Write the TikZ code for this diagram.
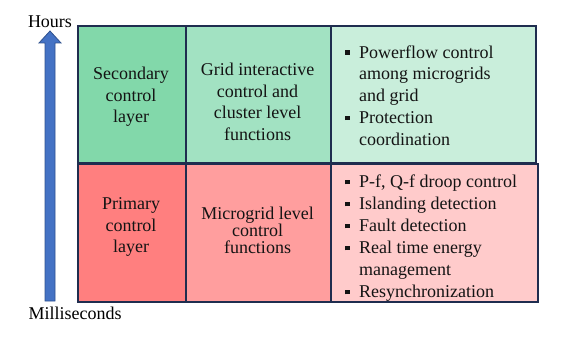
\documentclass[tikz,border=0pt]{standalone}
\usepackage{fontspec}
\setmainfont{Liberation Serif}
\newfontfamily\timesf{Liberation Serif}
\newcommand{\bul}{\makebox[15pt][l]{\hspace{1pt}\rule[3.5pt]{4.5pt}{4.5pt}}}
\newcommand{\cont}{\hspace*{15pt}}
\begin{document}
\begin{tikzpicture}[x=1pt,y=-1pt,
  cell/.style={draw=bordercol, line width=1.8pt, anchor=north west, inner sep=0pt},
  txt/.style={align=center, font=\timesf\fontsize{18}{21.5}\selectfont, text=black!92, inner sep=0pt},
  lst/.style={align=left, font=\timesf\fontsize{18}{21.8}\selectfont, text=black!92, inner sep=0pt, anchor=west},
  axislbl/.style={font=\timesf\fontsize{18}{21}\selectfont, inner sep=0pt}]
\definecolor{bordercol}{HTML}{1F2D4F}
\definecolor{gA}{HTML}{82D8AA}
\definecolor{gB}{HTML}{A2E2C2}
\definecolor{gC}{HTML}{C9EEDB}
\definecolor{rA}{HTML}{FF7F7F}
\definecolor{rB}{HTML}{FF9E9E}
\definecolor{rC}{HTML}{FFCBCB}
\definecolor{arrowfill}{HTML}{4472C4}
\definecolor{arrowdraw}{HTML}{2F528F}
\useasboundingbox (0,0) rectangle (585,337);
% cells
\node[cell, fill=gA, minimum width=108pt, minimum height=137pt] (s1) at (77,25) {};
\node[cell, fill=gB, minimum width=145pt, minimum height=137pt] (s2) at (185,25) {};
\node[cell, fill=gC, minimum width=205pt, minimum height=137pt] (s3) at (330,25) {};
\node[cell, fill=rA, minimum width=108pt, minimum height=138pt] (p1) at (77,163) {};
\node[cell, fill=rB, minimum width=145pt, minimum height=138pt] (p2) at (185,163) {};
\node[cell, fill=rC, minimum width=207pt, minimum height=138pt] (p3) at (330,163) {};
% texts
\node[txt] (t1) at (131,97) {Secondary\\control\\layer};
\node[txt] (t2) at (257.5,102) {Grid interactive\\control and\\cluster level\\functions};
\node[txt] (t3) at (131,227) {Primary\\control\\layer};
\node[txt, font=\timesf\fontsize{18}{17}\selectfont] (t4) at (257.5,230) {Microgrid level\\control\\functions};
\node[lst] (l1) at (344,95.5) {\bul Powerflow control\\\cont among microgrids\\\cont and grid\\\bul Protection\\\cont coordination};
\node[lst, font=\timesf\fontsize{18}{22}\selectfont] (l2) at (344,238.5) {\bul P-f, Q-f droop control\\\bul Islanding detection\\\bul Fault detection\\\bul Real time energy\\\cont management\\\bul Resynchronization};
% arrow
\draw[fill=arrowfill, draw=arrowdraw, line width=0.8pt]
  (45,301) -- (45,43) -- (39,43) -- (50,31) -- (61,43) -- (55,43) -- (55,301) -- cycle;
\node[axislbl] (hours) at (50,22) {Hours};
\node[axislbl] (ms) at (75,313) {Milliseconds};
\end{tikzpicture}
\end{document}
